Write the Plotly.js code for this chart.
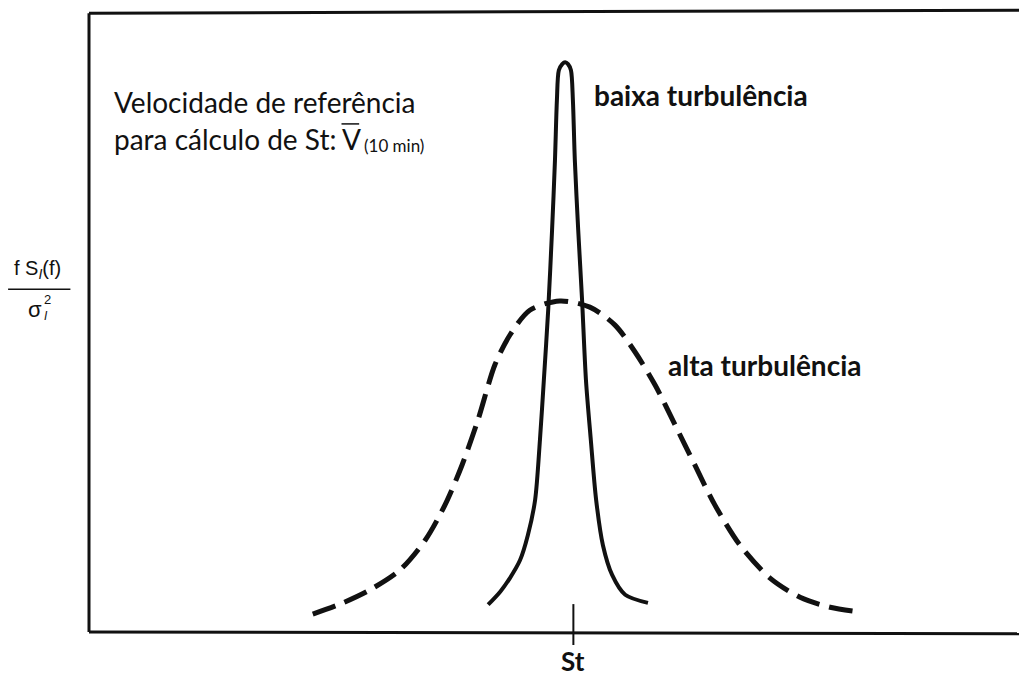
<!DOCTYPE html>
<html>
<head>
<meta charset="utf-8">
<script src="https://cdn.plot.ly/plotly-3.0.1.min.js"></script>
<style>
  html, body { margin: 0; padding: 0; background: #fff; }
  #chart { width: 1019px; height: 676px; }
</style>
</head>
<body>
<div id="chart"></div>
<script>
// Normalised frequency f/St and normalised spectrum f·S(f)/σ²
const lowTurbFreq = [0.824, 0.849, 0.869, 0.890, 0.906, 0.921, 0.931, 0.939, 0.948, 0.956,
                     0.962, 0.966, 0.970, 0.977, 0.983, 0.989, 0.995, 0.999, 1.003, 1.010,
                     1.018, 1.026, 1.036, 1.047, 1.061, 1.080, 1.107, 1.154];
const lowTurbSpec = [0.044, 0.065, 0.087, 0.116, 0.156, 0.213, 0.310, 0.406, 0.519, 0.648,
                     0.761, 0.858, 0.906, 0.916, 0.919, 0.916, 0.906, 0.858, 0.761, 0.648,
                     0.535, 0.406, 0.310, 0.213, 0.140, 0.092, 0.060, 0.047];

const highTurbFreq = [0.462, 0.518, 0.580, 0.642, 0.694, 0.735, 0.770, 0.803, 0.838, 0.869,
                      0.910, 0.972, 1.034, 1.086, 1.127, 1.169, 1.210, 1.251, 1.292, 1.344,
                      1.406, 1.468, 1.530, 1.596];
const highTurbSpec = [0.029, 0.045, 0.068, 0.100, 0.148, 0.205, 0.269, 0.342, 0.431, 0.479,
                      0.519, 0.534, 0.524, 0.495, 0.452, 0.398, 0.334, 0.269, 0.205, 0.140,
                      0.087, 0.056, 0.040, 0.032];

const strouhalTick = [1.0];
const strouhalLabel = ['St'];

const seriesNames = ['baixa turbulência', 'alta turbulência'];

const textFont = 'Lato, "Open Sans", sans-serif';
const labelFont = '"Liberation Sans", Arial, sans-serif';

const traces = [
  {
    x: lowTurbFreq, y: lowTurbSpec, name: seriesNames[0],
    type: 'scatter', mode: 'lines',
    line: { color: '#111', width: 4, shape: 'spline', smoothing: 0.8 },
    hoverinfo: 'skip'
  },
  {
    x: highTurbFreq, y: highTurbSpec, name: seriesNames[1],
    type: 'scatter', mode: 'lines',
    line: { color: '#111', width: 5, shape: 'spline', smoothing: 0.8, dash: '24px,10px' },
    hoverinfo: 'skip'
  }
];

const layout = {
  width: 1019, height: 676,
  margin: { l: 89, r: 0, t: 12, b: 44 },
  paper_bgcolor: '#fff', plot_bgcolor: '#fff',
  showlegend: false,
  xaxis: {
    range: [0, 1.92], showgrid: false, zeroline: false, showline: false,
    showticklabels: false, ticks: ''
  },
  yaxis: {
    range: [0, 1], showgrid: false, zeroline: false, showline: false,
    showticklabels: false, ticks: ''
  },
  shapes: [
    // frame: left, top and bottom edges
    { type: 'line', xref: 'paper', yref: 'paper', x0: 0, x1: 0, y0: 0, y1: 0.998,
      line: { color: '#111', width: 3 } },
    { type: 'line', xref: 'paper', yref: 'paper', x0: 0, x1: 1.0, y0: 0.998, y1: 1.003,
      line: { color: '#111', width: 3 } },
    { type: 'line', xref: 'paper', yref: 'paper', x0: 0, x1: 1.0, y0: 0, y1: -0.003,
      line: { color: '#111', width: 3 } },
    // Strouhal tick
    { type: 'line', xref: 'x', yref: 'paper', x0: strouhalTick[0], x1: strouhalTick[0],
      y0: -0.021, y1: 0.045, line: { color: '#111', width: 2 } },
    // fraction bar of the y label
    { type: 'line', xref: 'paper', yref: 'paper', x0: -0.087, x1: -0.020, y0: 0.553, y1: 0.553,
      line: { color: '#111', width: 1.5 } },
    // overbar of the mean velocity V
    { type: 'line', xref: 'paper', yref: 'paper', x0: 0.2715, x1: 0.2905, y0: 0.8195, y1: 0.8195,
      line: { color: '#111', width: 1.5 } }
  ],
  annotations: [
    { xref: 'paper', yref: 'paper', x: 0.025, y: 0.855, xanchor: 'left', yanchor: 'middle',
      text: 'Velocidade de referência', showarrow: false,
      font: { family: textFont, size: 28, color: '#111' } },
    { xref: 'paper', yref: 'paper', x: 0.025, y: 0.795, xanchor: 'left', yanchor: 'middle',
      text: 'para cálculo de St:', showarrow: false,
      font: { family: textFont, size: 28, color: '#111' } },
    { xref: 'paper', yref: 'paper', x: 0.2695, y: 0.795, xanchor: 'left', yanchor: 'middle',
      text: 'V', showarrow: false,
      font: { family: textFont, size: 28, color: '#111' } },
    { xref: 'paper', yref: 'paper', x: 0.2935, y: 0.785, xanchor: 'left', yanchor: 'middle',
      text: '(10 min)', showarrow: false,
      font: { family: textFont, size: 17, color: '#111' } },
    { xref: 'x', yref: 'paper', x: 1.039, y: 0.866, xanchor: 'left', yanchor: 'middle',
      text: '<b>' + seriesNames[0] + '</b>', showarrow: false,
      font: { family: textFont, size: 28, color: '#111' } },
    { xref: 'x', yref: 'paper', x: 1.192, y: 0.430, xanchor: 'left', yanchor: 'middle',
      text: '<b>' + seriesNames[1] + '</b>', showarrow: false,
      font: { family: textFont, size: 28, color: '#111' } },
    { xref: 'x', yref: 'paper', x: strouhalTick[0], y: -0.047, xanchor: 'center', yanchor: 'middle',
      text: '<b>' + strouhalLabel[0] + '</b>', showarrow: false,
      font: { family: textFont, size: 26, color: '#111' } },
    // y label: f S_I(f) over sigma_I^2
    { xref: 'paper', yref: 'paper', x: -0.055, y: 0.585, xanchor: 'center', yanchor: 'middle',
      text: 'f S<sub><i>I</i></sub>(f)', showarrow: false,
      font: { family: labelFont, size: 20, color: '#111' } },
    { xref: 'paper', yref: 'paper', x: -0.058, y: 0.520, xanchor: 'center', yanchor: 'middle',
      text: 'σ', showarrow: false,
      font: { family: labelFont, size: 22, color: '#111' } },
    { xref: 'paper', yref: 'paper', x: -0.045, y: 0.536, xanchor: 'center', yanchor: 'middle',
      text: '2', showarrow: false,
      font: { family: labelFont, size: 13, color: '#111' } },
    { xref: 'paper', yref: 'paper', x: -0.046, y: 0.510, xanchor: 'center', yanchor: 'middle',
      text: '<i>I</i>', showarrow: false,
      font: { family: labelFont, size: 12, color: '#111' } }
  ]
};

Plotly.newPlot('chart', traces, layout, { staticPlot: true, displayModeBar: false });
</script>
</body>
</html>
